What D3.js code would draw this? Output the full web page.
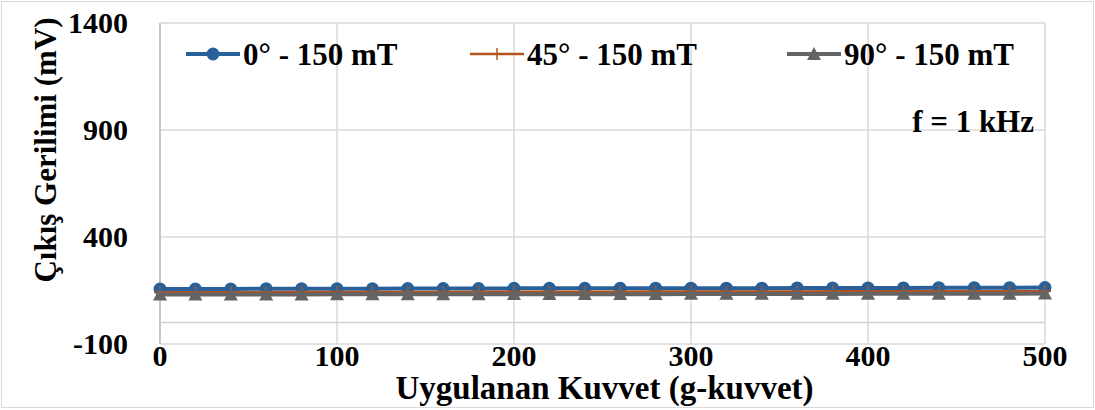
<!DOCTYPE html>
<html>
<head>
<meta charset="utf-8">
<script src="https://cdn.jsdelivr.net/npm/d3@7"></script>
<style>
    body { margin: 0; background: #fff; }
    svg text { font-family: "Liberation Serif", "Times New Roman", Tinos, "DejaVu Serif", serif; font-weight: bold; fill: #000; }
</style>
</head>
<body>
<svg id="chart" width="1095" height="410"></svg>
<script>
(function () {
    "use strict";

    // force values (g-kuvvet), every 20 from 0 to 500
    const forces = [0, 20, 40, 60, 80, 100, 120, 140, 160, 180, 200, 220, 240,
        260, 280, 300, 320, 340, 360, 380, 400, 420, 440, 460, 480, 500];

    // output voltage (mV)
    const v0 = [157, 157, 157, 158, 158, 158, 158, 159, 159, 159, 160, 160, 160,
        160, 161, 161, 161, 161, 162, 162, 162, 162, 163, 163, 163, 164];
    const v45 = [142, 142, 142, 142, 143, 143, 143, 143, 143, 144, 144, 144, 144,
        144, 145, 145, 145, 145, 145, 146, 146, 146, 146, 146, 147, 147];
    const v90 = [131, 131, 131, 131, 131, 132, 132, 132, 132, 132, 133, 133, 133,
        133, 133, 134, 134, 134, 134, 134, 135, 135, 135, 135, 135, 136];

    const seriesNames = ["0° - 150 mT", "45° - 150 mT", "90° - 150 mT"];
    const xTicks = [0, 100, 200, 300, 400, 500];
    const yTicks = [-100, 400, 900, 1400];

    const series = [
        { name: seriesNames[0], values: v0, color: "#2a6099", width: 4, marker: "circle" },
        { name: seriesNames[1], values: v45, color: "#b3541e", width: 2.5, marker: "plus" },
        { name: seriesNames[2], values: v90, color: "#646464", width: 4, marker: "triangle" }
    ];

    const svg = d3.select("#chart");

    // outer chart border
    svg.append("rect")
        .attr("x", 1.5).attr("y", 1.5)
        .attr("width", 1092).attr("height", 406)
        .attr("fill", "#fff")
        .attr("stroke", "#d9d9d9")
        .attr("stroke-width", 1);

    const x = d3.scaleLinear().domain([0, 500]).range([160, 1045]);
    const y = d3.scaleLinear().domain([-100, 1400]).range([344, 23]);

    // gridlines
    svg.append("g").selectAll("line")
        .data(xTicks)
        .enter().append("line")
        .attr("x1", (d) => x(d)).attr("x2", (d) => x(d))
        .attr("y1", y(1400)).attr("y2", y(-100))
        .attr("stroke", "#d9d9d9").attr("stroke-width", 1.5);

    svg.append("g").selectAll("line")
        .data(yTicks)
        .enter().append("line")
        .attr("x1", x(0)).attr("x2", x(500))
        .attr("y1", (d) => y(d)).attr("y2", (d) => y(d))
        .attr("stroke", "#d9d9d9").attr("stroke-width", 1.5);

    // axis lines (horizontal axis crosses at 0)
    svg.append("line")
        .attr("x1", x(0)).attr("x2", x(500))
        .attr("y1", y(0)).attr("y2", y(0))
        .attr("stroke", "#d0d0d0").attr("stroke-width", 1.5);
    svg.append("line")
        .attr("x1", x(0)).attr("x2", x(0))
        .attr("y1", y(1400)).attr("y2", y(-100))
        .attr("stroke", "#c8c8c8").attr("stroke-width", 2);

    // tick labels
    svg.append("g").selectAll("text")
        .data(yTicks)
        .enter().append("text")
        .attr("x", 128)
        .attr("y", (d) => y(d) + 10)
        .attr("text-anchor", "end")
        .attr("font-size", 30)
        .text((d) => d);

    svg.append("g").selectAll("text")
        .data(xTicks)
        .enter().append("text")
        .attr("x", (d) => x(d))
        .attr("y", 366)
        .attr("text-anchor", "middle")
        .attr("font-size", 30)
        .text((d) => d);

    // axis titles
    svg.append("text")
        .attr("x", x(250) + 2).attr("y", 399)
        .attr("text-anchor", "middle")
        .attr("font-size", 33)
        .text("Uygulanan Kuvvet (g-kuvvet)");

    svg.append("text")
        .attr("transform", "translate(56,150) rotate(-90)")
        .attr("text-anchor", "middle")
        .attr("font-size", 31)
        .text("Çıkış Gerilimi (mV)");

    svg.append("text")
        .attr("x", 1034).attr("y", 132)
        .attr("text-anchor", "end")
        .attr("font-size", 31)
        .text("f = 1 kHz");

    function drawMarker(g, type, color, cx, cy, scale) {
        if (type === "circle") {
            g.append("circle")
                .attr("cx", cx).attr("cy", cy).attr("r", 6.5 * scale)
                .attr("fill", color);
        } else if (type === "triangle") {
            const s = 7 * scale;
            g.append("path")
                .attr("d", `M${cx},${cy - s}L${cx + s},${cy + s * 0.85}L${cx - s},${cy + s * 0.85}Z`)
                .attr("fill", color);
        } else {
            const s = 6 * scale;
            g.append("path")
                .attr("d", `M${cx - s},${cy}H${cx + s}M${cx},${cy - s}V${cy + s}`)
                .attr("stroke", color).attr("stroke-width", 1.5);
        }
    }

    const line = d3.line()
        .x((d, i) => x(forces[i]))
        .y((d) => y(d));

    series.forEach(function (s) {
        const g = svg.append("g");
        g.append("path")
            .datum(s.values)
            .attr("d", line)
            .attr("fill", "none")
            .attr("stroke", s.color)
            .attr("stroke-width", s.width);
        s.values.forEach(function (v, i) {
            drawMarker(g, s.marker, s.color, x(forces[i]), y(v), 1);
        });
    });

    // legend
    const legendX = [186, 470, 787];
    series.forEach(function (s, i) {
        const g = svg.append("g");
        const lx = legendX[i];
        g.append("line")
            .attr("x1", lx).attr("x2", lx + 54)
            .attr("y1", 54).attr("y2", 54)
            .attr("stroke", s.color).attr("stroke-width", s.width);
        drawMarker(g, s.marker, s.color, lx + 27, 54, 1);
        g.append("text")
            .attr("x", lx + 57).attr("y", 65)
            .attr("font-size", 31)
            .text(s.name);
    });
})();
</script>
</body>
</html>
